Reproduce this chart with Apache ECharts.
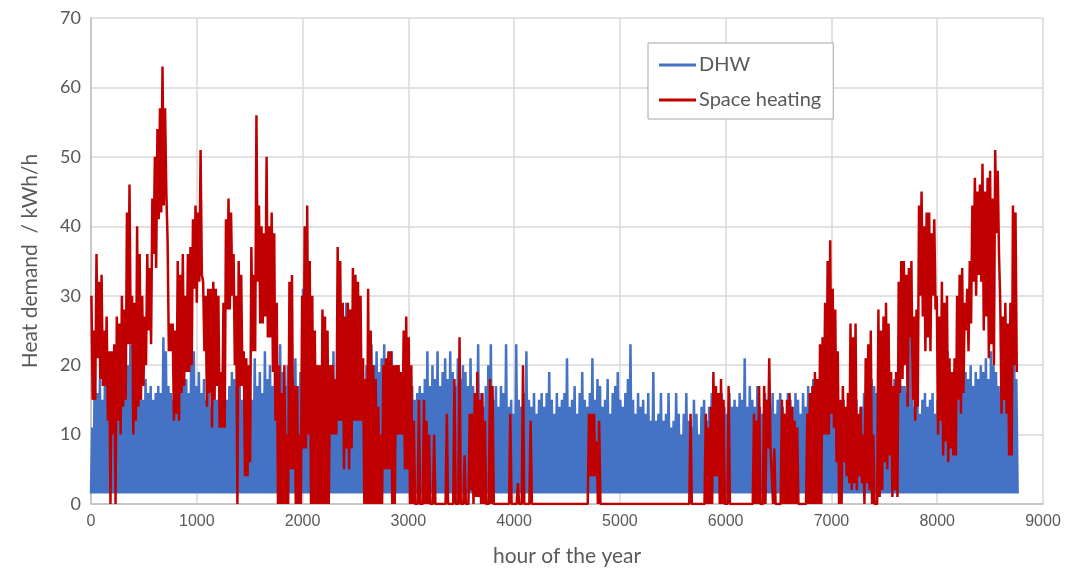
<!DOCTYPE html>
<html>
<head>
<meta charset="utf-8">
<script src="https://cdn.jsdelivr.net/npm/echarts@6/dist/echarts.min.js"></script>
<style>
  html, body { margin: 0; padding: 0; background: #fff; }
  #main { width: 1071px; height: 573px; }
</style>
</head>
<body>
<div id="main"></div>
<script>
// daily values (one per day of the year)
var hoursPerDay = 24
var dhwBase = 1.5
// DHW: daily peak, kWh/h
var dhwPeak = [
  11,20,16,18,15,19,17,14,16,18,
  15,17,19,22,20,23,18,16,19,17,
  15,18,16,17,15,16,17,16,24,22,
  17,16,15,17,16,18,17,18,16,23,
  22,17,19,16,18,15,17,14,16,15,
  17,14,16,15,17,19,18,17,19,15,
  17,16,18,15,21,17,19,16,22,18,
  20,17,21,18,23,19,17,20,22,18,
  21,17,19,31,20,18,20,19,17,20,
  19,20,21,19,20,22,18,21,19,17,
  29,26,28,20,17,15,18,13,20,17,
  23,20,22,19,21,23,20,17,22,16,
  17,15,16,17,14,16,17,15,16,17,
  16,18,22,17,20,18,22,17,19,21,
  18,22,19,17,21,18,20,19,17,21,
  17,15,23,16,14,17,20,23,15,17,
  14,17,16,23,14,15,13,23,15,14,
  16,22,15,14,16,13,15,16,14,16,
  19,15,13,16,14,15,16,21,14,15,
  17,13,16,19,15,14,16,21,15,18,
  17,14,15,18,13,16,17,19,15,14,
  16,18,23,15,13,16,14,15,13,16,
  12,19,12,13,16,12,13,16,11,12,
  16,13,10,13,16,12,11,15,13,10,
  14,15,12,14,16,14,13,15,16,14,
  13,16,14,15,14,16,15,21,14,17,
  15,14,17,14,13,16,15,14,16,13,
  15,16,14,13,16,15,14,16,15,13,
  16,14,17,15,18,16,17,15,18,16,
  17,15,18,16,14,12,15,11,14,15,
  13,15,12,14,16,17,16,18,17,16,
  18,17,16,18,17,16,18,17,16,17,
  17,16,24,15,14,16,13,15,16,14,
  15,16,13,15,16,14,15,22,15,16,
  14,16,15,17,19,18,20,17,19,18,
  20,19,21,18,22,20,19,17,16,17,
  16,18,16,29,18
]
// Space heating: daily high and daily low, kWh/h
var shHigh = [
  30,25,36,32,33,25,27,22,22,23,
  27,26,30,28,42,46,30,29,40,36,
  30,27,36,34,44,50,54,57,63,57,
  38,26,26,25,35,33,36,30,36,37,
  41,43,42,51,32,30,31,31,32,31,
  30,19,29,41,44,42,36,30,35,33,
  22,21,20,37,33,56,43,40,39,50,
  40,42,39,29,20,16,20,10,32,33,
  17,17,10,30,40,43,35,30,25,20,
  20,28,27,25,20,20,18,37,35,29,
  27,29,28,34,33,32,30,21,18,31,
  25,20,18,14,10,20,21,22,22,20,
  20,20,19,25,27,24,20,12,0,15,
  0,15,12,10,0,10,0,0,0,0,
  13,0,0,18,0,24,0,7,0,13,
  13,16,19,15,16,12,0,18,17,0,
  0,0,0,0,0,13,0,0,3,0,
  20,0,0,12,0,0,0,0,0,0,
  0,0,0,0,0,0,0,0,0,0,
  0,0,0,0,0,0,13,13,13,9,
  12,0,0,0,0,0,0,0,0,0,
  0,0,0,0,0,0,0,0,0,0,
  0,0,0,0,0,0,0,0,0,0,
  0,0,0,0,0,0,13,0,0,0,
  0,0,13,11,14,19,17,16,18,15,
  0,17,0,0,0,0,0,0,0,0,
  0,13,12,17,0,17,15,21,8,8,
  0,0,15,13,15,16,14,12,11,0,
  0,0,13,16,17,19,18,23,24,29,
  35,38,31,28,22,15,17,14,16,26,
  24,26,13,14,10,21,23,25,10,0,
  28,25,27,29,26,19,17,19,32,35,
  35,33,34,35,27,28,43,45,40,42,
  42,39,41,30,27,32,29,30,21,19,
  21,30,33,34,29,31,35,43,47,45,
  46,49,45,47,48,44,51,48,29,27,
  29,26,29,43,42
]
var shLow = [
  15,15,21,18,17,17,12,0,10,0,
  12,10,14,15,23,23,10,12,14,15,
  17,20,25,23,36,34,41,42,43,45,
  22,22,12,13,12,16,17,19,19,20,
  31,29,32,33,22,14,16,11,15,17,
  11,11,11,28,28,30,20,0,17,17,
  4,4,6,22,22,32,26,26,27,24,
  24,19,12,0,0,0,0,0,5,5,
  0,0,0,8,8,10,0,0,0,0,
  0,0,0,0,10,10,10,12,12,5,
  8,5,8,12,12,12,12,0,0,0,
  0,0,0,0,0,5,5,5,0,0,
  10,10,10,5,5,0,0,0,0,0,
  0,0,0,0,0,0,0,0,0,0,
  0,0,0,0,0,0,0,0,0,2,
  0,1,1,0,0,0,0,0,0,0,
  0,0,0,0,0,0,0,0,0,0,
  0,0,0,0,0,0,0,0,0,0,
  0,0,0,0,0,0,0,0,0,0,
  0,0,0,0,0,0,4,4,4,0,
  0,0,0,0,0,0,0,0,0,0,
  0,0,0,0,0,0,0,0,0,0,
  0,0,0,0,0,0,0,0,0,0,
  0,0,0,0,0,0,0,0,0,0,
  0,0,0,0,0,4,4,0,0,0,
  0,0,0,0,0,0,0,0,0,0,
  0,0,0,0,0,0,8,8,0,0,
  0,0,0,0,0,0,0,0,0,0,
  0,0,0,0,0,0,0,0,10,10,
  10,13,11,6,0,0,6,4,3,2,
  3,2,4,3,0,3,2,0,0,0,
  1,2,6,5,7,1,2,1,16,18,
  20,14,24,15,12,14,30,27,22,24,
  22,30,28,10,12,7,9,6,8,7,
  7,15,13,16,25,22,26,32,30,33,
  32,25,27,21,23,20,39,36,13,15,
  13,7,7,20,19
]

var chartDom = document.getElementById('main')
var myChart = echarts.init(chartDom)

var dhwData = []
dhwPeak.forEach(function (v, d) {
  dhwData.push([d * hoursPerDay, dhwBase])
  dhwData.push([d * hoursPerDay + 12, v])
})
dhwData.push([dhwPeak.length * hoursPerDay, dhwBase])

var shData = []
shHigh.forEach(function (v, d) {
  shData.push([d * hoursPerDay + 4, v])
  shData.push([d * hoursPerDay + 16, shLow[d]])
})

var textColor = '#595959'
var font = "Lato, 'Liberation Sans', sans-serif"

var option = {
  animation: false,
  legend: {
    orient: 'vertical',
    left: 648,
    top: 43,
    padding: [11, 12, 8, 11],
    itemGap: 13,
    itemWidth: 37,
    itemHeight: 3,
    icon: 'rect',
    borderColor: '#a6a6a6',
    borderWidth: 1,
    backgroundColor: '#fff',
    textStyle: { color: textColor, fontSize: 20, lineHeight: 22, fontFamily: font, padding: [0, 0, 0, -2] },
    data: ['DHW', 'Space heating']
  },
  grid: { left: 91, right: 28, top: 18, bottom: 69 },
  xAxis: {
    type: 'value',
    min: 0,
    max: 9000,
    interval: 1000,
    name: 'hour of the year',
    nameLocation: 'middle',
    nameGap: 42,
    nameTextStyle: { color: textColor, fontSize: 21, fontFamily: font },
    axisLine: { lineStyle: { color: '#bfbfbf', width: 1.5 } },
    axisTick: { show: false },
    axisLabel: {
      color: textColor, fontSize: 16, margin: 10,
      fontFamily: "'Liberation Sans Narrow', 'Liberation Sans', sans-serif",
      formatter: function (v) { return String(v) }
    },
    splitLine: { lineStyle: { color: '#d9d9d9', width: 1.5 } }
  },
  yAxis: {
    type: 'value',
    min: 0,
    max: 70,
    interval: 10,
    name: 'Heat demand  / kWh/h',
    nameLocation: 'middle',
    nameGap: 50,
    nameTextStyle: { color: textColor, fontSize: 21, fontFamily: font },
    axisLine: { show: true, lineStyle: { color: '#bfbfbf', width: 1.5 } },
    axisTick: { show: false },
    axisLabel: { color: textColor, fontSize: 18, margin: 10, fontFamily: font },
    splitLine: { lineStyle: { color: '#d9d9d9', width: 1.5 } }
  },
  series: [
    {
      name: 'DHW',
      type: 'line',
      symbol: 'none',
      data: dhwData,
      color: '#4472C4',
      lineStyle: { color: '#4472C4', width: 2.5 }
    },
    {
      name: 'Space heating',
      type: 'line',
      symbol: 'none',
      data: shData,
      color: '#C00000',
      lineStyle: { color: '#C00000', width: 2.5 }
    }
  ]
}

option && myChart.setOption(option)
</script>
</body>
</html>
